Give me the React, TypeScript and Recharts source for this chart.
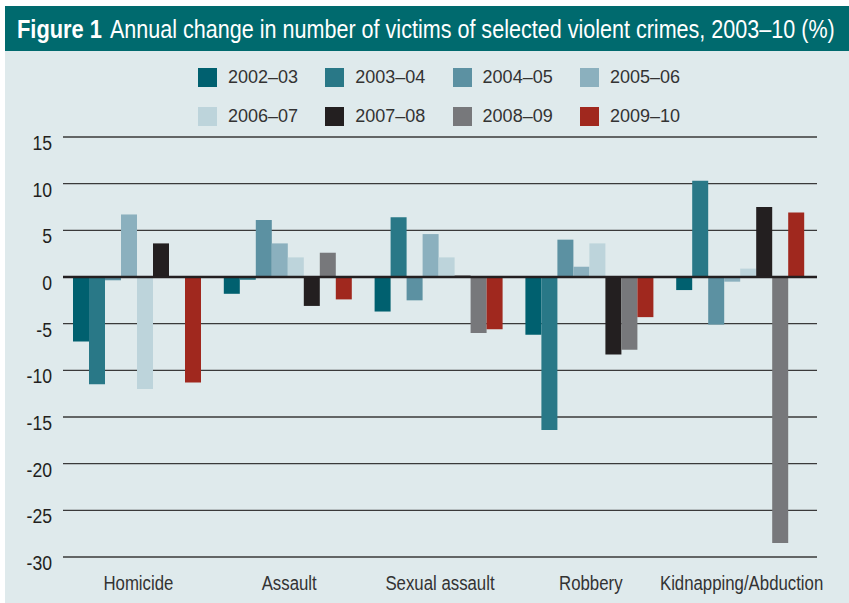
import React from 'react';
import { BarChart, Bar, XAxis, YAxis, CartesianGrid, ReferenceLine } from 'recharts';

// crime categories along the x axis
const categories = ['Homicide', 'Assault', 'Sexual assault', 'Robbery', 'Kidnapping/Abduction'];

// annual change (%) per year, one value per category
const v2002_03 = [-6.9, -1.8, -3.7, -6.2, -1.4];
const v2003_04 = [-11.5, -0.3, 6.4, -16.4, 10.3];
const v2004_05 = [-0.35, 6.1, -2.5, 4.0, -5.1];
const v2005_06 = [6.7, 3.6, 4.6, 1.1, -0.5];
const v2006_07 = [-12.0, 2.1, 2.1, 3.6, 0.9];
const v2007_08 = [3.6, -3.1, 0.15, -8.3, 7.5];
const v2008_09 = [0, 2.6, -6.0, -7.8, -28.5];
const v2009_10 = [-11.3, -2.4, -5.6, -4.3, 6.9];

const yTicks = [15, 10, 5, 0, -5, -10, -15, -20, -25, -30];

const series = [
  { key: '2002–03', values: v2002_03, color: '#00606f' },
  { key: '2003–04', values: v2003_04, color: '#297887' },
  { key: '2004–05', values: v2004_05, color: '#5c91a2' },
  { key: '2005–06', values: v2005_06, color: '#8bb0be' },
  { key: '2006–07', values: v2006_07, color: '#bdd4db' },
  { key: '2007–08', values: v2007_08, color: '#231f20' },
  { key: '2008–09', values: v2008_09, color: '#77787b' },
  { key: '2009–10', values: v2009_10, color: '#a0281e' },
];

const data = categories.map((name, i) => {
  const row: { [k: string]: any } = { name };
  series.forEach(s => { row[s.key] = s.values[i]; });
  return row;
});

const sans = '"Liberation Sans", Arial, sans-serif';

// squeeze a regular sans horizontally so it reads like a condensed face
const Narrow = (props: any) => {
  const { x, y, anchor, size, fill, weight, sx, children } = props;
  return (
    <text
      transform={`translate(${x},${y}) scale(${sx},1)`}
      x={0}
      y={0}
      textAnchor={anchor}
      fontFamily={sans}
      fontSize={size}
      fontWeight={weight || 'normal'}
      fill={fill}
    >
      {children}
    </text>
  );
};

const measure = (txt: string, font: string) => {
  const ctx = document.createElement('canvas').getContext('2d');
  if (!ctx) return 1;
  ctx.font = font;
  return ctx.measureText(txt).width;
};

const YTick = (props: any) => {
  const { x, y, payload } = props;
  return <Narrow x={x} y={y + 13} anchor="end" size={21} sx={0.84} fill="#231f20">{payload.value}</Narrow>;
};

const XTick = (props: any) => {
  const { x, y, payload } = props;
  return <Narrow x={x} y={y + 25} anchor="middle" size={21} sx={0.8} fill="#333">{payload.value}</Narrow>;
};

const Legend8 = () => (
  <div style={{ position: 'absolute', left: 198, top: 68, width: 520 }}>
    {series.map((s, i) => (
      <div
        key={s.key}
        style={{
          position: 'absolute',
          left: (i % 4) * 127.3,
          top: Math.floor(i / 4) * 38.5,
          display: 'flex',
          alignItems: 'center',
          height: 19,
        }}
      >
        <div style={{ width: 19, height: 19, background: s.color }} />
        <span style={{ marginLeft: 11, fontFamily: sans, fontSize: 18, color: '#333' }}>
          {s.key}
        </span>
      </div>
    ))}
  </div>
);

const titleBold = 'Figure 1';
const titleRest = 'Annual change in number of victims of selected violent crimes, 2003–10 (%)';

const App = () => {
  const boldScale = 85 / measure(titleBold, `bold 26px ${sans}`);
  const restScale = 725 / measure(titleRest, `26px ${sans}`);
  return (
    <div style={{ position: 'absolute', left: 0, top: 0, width: 849, height: 603, background: '#fff', overflow: 'hidden' }}>
      <div style={{ position: 'absolute', left: 5, top: 6, width: 844, height: 597, background: '#dfeaec' }} />
      <svg style={{ position: 'absolute', left: 0, top: 0 }} width={849} height={51}>
        <rect x={5} y={6} width={844} height={45} fill="#006a6e" />
        <Narrow x={17} y={38} anchor="start" size={26} weight="bold" sx={boldScale} fill="#fff">{titleBold}</Narrow>
        <Narrow x={110} y={38} anchor="start" size={26} sx={restScale} fill="#fff">{titleRest}</Narrow>
      </svg>
      <Legend8 />
      <div style={{ position: 'absolute', left: 0, top: 0 }}>
        <BarChart
          width={849}
          height={603}
          data={data}
          margin={{ top: 137, right: 32, bottom: 16, left: 13 }}
          barCategoryGap={10}
          barGap={0}
        >
          <CartesianGrid horizontal vertical={false} stroke="#3a3a3a" strokeWidth={1.4} />
          <XAxis dataKey="name" axisLine={false} tickLine={false} height={30} tick={<XTick />} interval={0} />
          <YAxis
            type="number"
            domain={[-30, 15]}
            ticks={yTicks}
            width={50}
            axisLine={false}
            tickLine={false}
            tickMargin={5}
            tick={<YTick />}
            interval={0}
          />
          {series.map(s => (
            <Bar key={s.key} dataKey={s.key} fill={s.color} isAnimationActive={false} />
          ))}
          <ReferenceLine y={0} stroke="#231f20" strokeWidth={2.6} />
        </BarChart>
      </div>
    </div>
  );
};

export default App;
